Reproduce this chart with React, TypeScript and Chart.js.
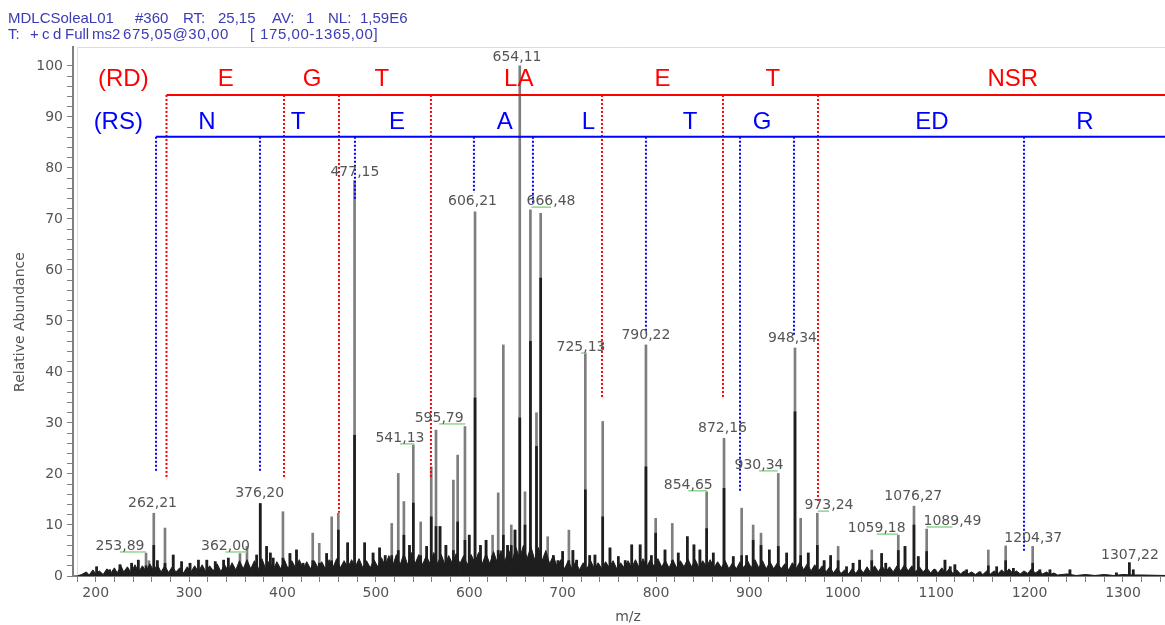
import React, { useEffect, useRef } from 'react';
import { Chart, registerables } from 'chart.js';
Chart.register(...registerables);

// ---- spectrum sticks (m/z, full height, dark inner height) ----
const peakMz = [201, 215, 226, 238.5, 245.6, 253.9, 257, 262.2, 266, 274.2, 283, 292, 301, 310, 319, 328, 337, 342, 354.5, 362, 372.4, 376.2, 383, 387, 390, 400.5, 408, 415, 422, 432.4, 439.4, 447.3, 452.7, 459.8, 469.8, 477.2, 488, 497, 504, 510, 517, 524, 530, 536, 540.1, 548, 554.4, 559.3, 564.4, 568.7, 575, 583, 587.6, 595.4, 600, 606.2, 612, 618, 625, 631, 636.5, 641, 645, 649, 654.1, 659.7, 665.5, 672, 676.5, 684, 690, 695, 700, 706.7, 711, 715, 724.3, 729, 734.6, 742.9, 750.7, 759.6, 767, 774, 783, 789.2, 795, 799.6, 809.6, 817.4, 823.8, 833.5, 840.6, 847, 854.2, 861.3, 872.8, 882.7, 891.7, 897, 904, 912.4, 921.3, 930.9, 939.9, 948.8, 954.9, 963, 972.7, 980, 987, 995, 1004, 1011, 1018, 1031, 1041.6, 1046, 1059.4, 1066.6, 1076.2, 1080.8, 1089.8, 1098.7, 1109.4, 1115, 1120, 1132.6, 1146.9, 1155.8, 1164.8, 1174.4, 1182.6, 1203.3, 1211, 1221.8, 1243.2, 1293, 1306.8, 1311];
const peakTop = [1.8, 1.2, 2.2, 2.5, 3.1, 4.5, 3.0, 12.3, 3.0, 9.4, 4.1, 2.8, 2.5, 3.1, 3.1, 2.8, 3.1, 3.5, 4.4, 5.8, 4.1, 14.2, 5.8, 4.5, 3.5, 12.6, 4.4, 5.1, 2.5, 8.4, 6.4, 4.4, 11.6, 12.3, 6.5, 77.5, 6.5, 4.5, 5.5, 4.0, 10.3, 20.1, 14.6, 6.0, 25.7, 10.6, 5.8, 21.4, 28.6, 9.7, 6.0, 18.8, 23.7, 29.3, 8.0, 71.4, 6.0, 7.0, 8.0, 16.3, 45.3, 6.0, 10.0, 9.0, 100, 16.5, 71.8, 32.0, 71.1, 7.7, 4.0, 3.0, 4.8, 9.0, 5.0, 3.1, 43.7, 4.0, 4.1, 30.3, 5.5, 3.8, 3.0, 6.1, 6.1, 45.3, 4.0, 11.3, 5.1, 10.3, 4.5, 7.7, 6.1, 5.1, 16.5, 4.5, 27.0, 3.8, 13.3, 4.0, 10.0, 8.4, 5.1, 20.1, 4.5, 44.7, 11.3, 4.5, 12.3, 3.0, 4.0, 5.8, 1.8, 2.5, 3.1, 5.1, 4.4, 2.5, 8.0, 5.8, 13.7, 3.8, 9.2, 1.2, 3.1, 1.8, 2.2, 1.2, 0.8, 5.1, 1.8, 5.9, 1.5, 5.8, 1.2, 1.2, 1.2, 0.6, 2.6, 1.2];
const peakDark = [1.8, 1.2, 2.2, 2.5, 3.1, 2.0, 1.5, 6.0, 3.0, 2.5, 4.1, 2.8, 2.5, 3.1, 3.1, 2.8, 3.1, 3.5, 2.0, 2.5, 4.1, 14.2, 5.8, 4.5, 3.5, 3.5, 4.4, 5.1, 2.5, 3.0, 2.5, 4.4, 3.0, 9.0, 6.5, 27.6, 6.5, 4.5, 5.5, 4.0, 4.0, 5.0, 8.0, 6.0, 14.3, 4.0, 5.8, 11.6, 9.7, 9.7, 6.0, 5.0, 10.6, 7.0, 8.0, 34.9, 6.0, 7.0, 4.0, 5.0, 8.0, 6.0, 6.0, 9.0, 31.0, 10.0, 46.0, 25.4, 58.4, 3.0, 4.0, 3.0, 4.8, 3.0, 5.0, 3.1, 16.9, 4.0, 4.1, 11.6, 5.5, 3.8, 3.0, 6.1, 6.1, 21.4, 4.0, 8.4, 5.1, 3.0, 4.5, 7.7, 6.1, 5.1, 9.3, 4.5, 17.2, 3.8, 4.0, 4.0, 7.0, 6.0, 5.1, 5.8, 4.5, 32.2, 4.0, 4.5, 6.0, 3.0, 4.0, 3.0, 1.8, 2.5, 3.1, 3.0, 4.4, 2.5, 5.0, 5.8, 10.0, 3.8, 4.8, 1.2, 3.1, 1.8, 2.2, 1.2, 0.8, 2.0, 1.8, 3.0, 1.5, 2.5, 1.2, 1.2, 1.2, 0.6, 2.6, 1.2];

// ---- baseline noise floor ----
const noiseMz = [180, 185, 190, 193, 197, 200, 204, 208, 212, 216, 220, 223, 227, 230, 234, 238, 242, 246, 250, 254, 258, 262, 266, 270, 274, 278, 282, 286, 290, 294, 298, 302, 306, 310, 314, 318, 322, 326, 330, 334, 338, 342, 346, 350, 354, 358, 362, 366, 370, 374, 378, 382, 386, 390, 394, 398, 402, 406, 410, 414, 418, 422, 426, 430, 434, 438, 442, 446, 450, 454, 458, 462, 466, 470, 474, 478, 482, 486, 490, 494, 498, 502, 506, 510, 514, 518, 522, 526, 530, 534, 538, 542, 546, 550, 554, 558, 562, 566, 570, 574, 578, 582, 586, 590, 594, 598, 602, 606, 610, 614, 618, 622, 626, 630, 634, 638, 642, 646, 650, 654, 658, 662, 666, 670, 674, 678, 682, 686, 690, 694, 698, 702, 706, 710, 714, 718, 722, 726, 730, 734, 738, 742, 746, 750, 754, 758, 762, 766, 770, 774, 778, 782, 786, 790, 794, 798, 802, 806, 810, 814, 818, 822, 826, 830, 834, 838, 842, 846, 850, 854, 858, 862, 866, 870, 874, 878, 882, 886, 890, 894, 898, 902, 906, 910, 914, 918, 922, 926, 930, 934, 938, 942, 946, 950, 954, 958, 962, 966, 970, 974, 978, 982, 986, 990, 994, 998, 1002, 1006, 1010, 1014, 1018, 1022, 1026, 1030, 1034, 1038, 1042, 1046, 1050, 1054, 1058, 1062, 1066, 1070, 1074, 1078, 1082, 1086, 1090, 1094, 1098, 1102, 1106, 1110, 1114, 1118, 1122, 1126, 1130, 1134, 1138, 1142, 1146, 1150, 1154, 1158, 1162, 1166, 1170, 1174, 1178, 1182, 1186, 1190, 1194, 1198, 1202, 1206, 1210, 1214, 1218, 1222, 1226, 1230, 1240, 1250, 1260, 1270, 1280, 1290, 1300, 1310, 1320, 1345];
const noiseLevel = [0, 0.3, 0.8, 0.2, 1.2, 0.4, 1.0, 0.3, 1.4, 0.5, 1.6, 0.6, 2.0, 0.8, 1.8, 0.6, 2.2, 0.8, 2.0, 0.9, 2.4, 1.0, 2.2, 0.8, 2.0, 0.7, 1.8, 0.8, 1.6, 0.6, 1.8, 0.8, 2.0, 0.8, 2.2, 0.8, 2.0, 1.0, 2.4, 0.9, 2.2, 1.0, 2.6, 1.2, 3.0, 1.4, 3.2, 1.4, 3.0, 1.2, 3.4, 1.4, 3.0, 1.2, 2.8, 1.4, 3.2, 1.4, 3.0, 1.6, 3.2, 1.4, 2.8, 1.4, 3.0, 1.6, 2.8, 1.4, 3.2, 1.6, 3.4, 1.6, 3.0, 1.6, 3.2, 1.8, 3.4, 1.6, 3.0, 1.6, 3.2, 1.8, 3.6, 2.0, 4.0, 2.0, 4.2, 2.2, 4.4, 2.2, 4.6, 2.4, 4.2, 2.2, 4.0, 2.4, 4.6, 2.4, 4.2, 2.2, 4.0, 2.4, 4.4, 2.4, 4.0, 2.2, 4.2, 2.6, 4.6, 2.4, 4.4, 2.4, 4.8, 2.6, 5.0, 2.8, 5.2, 3.0, 5.6, 3.4, 6.0, 3.4, 5.8, 3.2, 5.6, 3.0, 5.0, 2.4, 4.0, 1.8, 3.2, 1.4, 3.0, 1.4, 2.8, 1.2, 2.6, 1.4, 3.0, 1.4, 2.6, 1.4, 2.8, 1.6, 3.0, 1.4, 2.6, 1.6, 3.0, 1.6, 3.2, 1.6, 3.4, 1.8, 3.2, 1.8, 3.4, 1.8, 3.0, 1.6, 3.2, 1.6, 3.0, 1.8, 3.4, 1.8, 3.2, 1.6, 3.0, 1.8, 3.2, 1.6, 2.8, 1.6, 3.0, 1.4, 2.6, 1.4, 2.8, 1.6, 3.0, 1.6, 3.2, 1.6, 3.0, 1.4, 2.8, 1.4, 2.6, 1.4, 2.4, 1.2, 2.6, 1.4, 2.8, 1.2, 2.4, 1.0, 2.2, 1.0, 2.0, 0.8, 1.8, 0.6, 1.6, 0.5, 1.2, 0.4, 1.4, 0.5, 1.6, 0.6, 1.8, 0.6, 2.0, 0.8, 2.0, 0.8, 1.8, 0.8, 2.0, 1.0, 2.2, 1.0, 2.0, 0.8, 1.8, 0.8, 1.6, 0.6, 1.4, 0.6, 1.6, 0.6, 1.4, 0.5, 1.2, 0.4, 1.0, 0.4, 0.8, 0.3, 0.8, 0.3, 1.0, 0.4, 1.0, 0.4, 1.2, 0.5, 1.4, 0.5, 1.0, 0.4, 1.0, 0.5, 1.4, 0.6, 1.0, 0.4, 0.8, 0.3, 0.6, 0.2, 0.4, 0.1, 0.3, 0.1, 0.3, 0.1, 0.3, 0.2, 0.2, 0.1];

// ---- peak labels ----
const labelText = ['654,11', '477,15', '606,21', '666,48', '725,13', '790,22', '948,34', '595,79', '541,13', '872,16', '854,65', '930,34', '973,24', '1076,27', '1059,18', '1089,49', '1204,37', '1307,22', '262,21', '376,20', '253,89', '362,00'];
const labelMz = [651.1, 477.6, 603.5, 687.5, 719.7, 789.2, 946.1, 567.8, 525.8, 871.2, 834.5, 910.3, 985.2, 1075.5, 1036.3, 1117.4, 1204, 1307.5, 260.8, 375.6, 226, 339];
const labelY = [101.0, 78.4, 72.7, 72.7, 44.1, 46.5, 45.9, 30.2, 26.3, 28.2, 17.1, 21.0, 13.1, 14.9, 8.6, 10.0, 6.7, 3.3, 13.5, 15.5, 5.1, 5.1];
const labelPeakMz = [654.11, 477.15, 606.21, 666.48, 725.13, 790.22, 948.34, 595.79, 541.13, 872.16, 854.65, 930.34, 973.24, 1076.27, 1059.18, 1089.49, 1204.37, 1307.22, 262.21, 376.20, 253.89, 362.00];

// ---- sequence ladders ----
const rdLineY = 94.3;
const rsLineY = 86.1;
const rdBreakMz = [275.8, 401.6, 460.5, 559.0, 742.1, 871.7, 973.4];
const rdBreakBottom = [19.0, 19.0, 12.4, 19.0, 34.9, 35.1, 14.3];
const rsBreakMz = [264.6, 375.9, 477.6, 605.0, 668.2, 789.2, 889.9, 947.7, 1194.0];
const rsBreakBottom = [20.6, 20.6, 73.7, 75.1, 73.1, 47.6, 16.7, 47.3, 4.9];
const rdLetters = ['(RD)', 'E', 'G', 'T', 'LA', 'E', 'T', 'NSR'];
const rdLetterMz = [229.6, 339.4, 431.6, 506.5, 653, 806.9, 925, 1182];
const rdLetterY = 96.1;
const rsLetters = ['(RS)', 'N', 'T', 'E', 'A', 'L', 'T', 'G', 'ED', 'R'];
const rsLetterMz = [224.2, 319.2, 416.7, 522.6, 638, 727.5, 836.4, 913.5, 1095.5, 1259.3];
const rsLetterY = 87.6;

const X_MIN = 175.7;
const X_MAX = 1345;
const Y_MAX = 103.7;

const header1: [string, number][] = [['MDLCSoleaL01', 8], ['#360', 135], ['RT:', 183], ['25,15', 218], ['AV:', 272], ['1', 306], ['NL:', 328], ['1,59E6', 360]];
const header2: [string, number][] = [['T:', 8], ['+', 30], ['c', 42], ['d', 53], ['Full', 65], ['ms2', 92], ['675,05@30,00', 123], ['[', 250], ['175,00-1365,00]', 260]];

const GRAY = '#7e7e7e';
const DARK = '#1e1e1e';
const AXIS = '#808080';
const TEXT = '#555555';

const annotPlugin = {
  id: 'annot',
  beforeDatasetsDraw(chart: any) {
    const { ctx, chartArea } = chart;
    ctx.save();
    ctx.strokeStyle = '#dcdcdc';
    ctx.lineWidth = 1;
    ctx.beginPath();
    ctx.moveTo(chartArea.left + 5, chartArea.top + 0.5);
    ctx.lineTo(chartArea.right, chartArea.top + 0.5);
    ctx.moveTo(chartArea.left + 4.5, chartArea.top);
    ctx.lineTo(chartArea.left + 4.5, chartArea.bottom);
    ctx.stroke();
    ctx.restore();
  },
  afterDatasetsDraw(chart: any) {
    const { ctx } = chart;
    const x = chart.scales.x;
    const y = chart.scales.y;
    ctx.save();
    // peak labels + leader lines
    ctx.font = '14px "DejaVu Sans", sans-serif';
    ctx.textAlign = 'center';
    ctx.textBaseline = 'alphabetic';
    labelText.forEach((t, i) => {
      const lx = x.getPixelForValue(labelMz[i]);
      const ly = y.getPixelForValue(labelY[i]);
      const px = x.getPixelForValue(labelPeakMz[i]);
      if (Math.abs(px - lx) > 4) {
        ctx.strokeStyle = '#8fd68f';
        ctx.lineWidth = 1.5;
        ctx.beginPath();
        ctx.moveTo(lx, ly + 2);
        ctx.lineTo(px, ly + 2);
        ctx.stroke();
      }
      ctx.fillStyle = TEXT;
      ctx.fillText(t, lx, ly);
    });
    // sequence letters
    ctx.font = '24px "Liberation Sans", Arial, sans-serif';
    ctx.fillStyle = '#ff0000';
    rdLetters.forEach((t, i) => ctx.fillText(t, x.getPixelForValue(rdLetterMz[i]), y.getPixelForValue(rdLetterY)));
    ctx.fillStyle = '#0000ff';
    rsLetters.forEach((t, i) => ctx.fillText(t, x.getPixelForValue(rsLetterMz[i]), y.getPixelForValue(rsLetterY)));
    ctx.restore();
  },
  afterDraw(chart: any) {
    const { ctx } = chart;
    ctx.save();
    ctx.fillStyle = '#3b3bb3';
    ctx.font = '15px "Liberation Sans", Arial, sans-serif';
    ctx.textAlign = 'left';
    ctx.textBaseline = 'alphabetic';
    header1.forEach(([t, px]) => ctx.fillText(t, px, 23));
    header2.forEach(([t, px]) => {
      ctx.letterSpacing = t.length > 10 ? '0.6px' : '0px';
      ctx.fillText(t, px, 39);
    });
    ctx.letterSpacing = '0px';
    // axis titles
    ctx.fillStyle = TEXT;
    ctx.font = '14px "DejaVu Sans", sans-serif';
    ctx.textAlign = 'center';
    ctx.textBaseline = 'middle';
    ctx.fillText('m/z', 628, 617);
    ctx.translate(20, 322);
    ctx.rotate(-Math.PI / 2);
    ctx.fillText('Relative Abundance', 0, 0);
    ctx.restore();
  },
};

export default function App() {
  const ref = useRef<HTMLCanvasElement>(null);
  useEffect(() => {
    const xTicks: number[] = [];
    for (let v = 180; v <= 1340; v += 20) xTicks.push(v);
    const yTicks: number[] = [];
    for (let v = 0; v <= 100; v += 2) yTicks.push(v);

    const vLine = (m: number, top: number, bottom: number, color: string) => ({
      type: 'line',
      data: [{ x: m, y: top }, { x: m, y: bottom }],
      borderColor: color,
      borderWidth: 2,
      borderDash: [2, 2],
      pointRadius: 0,
      fill: false,
      tension: 0,
      order: 0,
    });

    const datasets: any[] = [
      {
        type: 'line',
        data: [{ x: rdBreakMz[0], y: rdLineY }, { x: X_MAX, y: rdLineY }],
        borderColor: '#ff0000', borderWidth: 2, pointRadius: 0, fill: false, order: 0,
      },
      {
        type: 'line',
        data: [{ x: rsBreakMz[0], y: rsLineY }, { x: X_MAX, y: rsLineY }],
        borderColor: '#0000ff', borderWidth: 2, pointRadius: 0, fill: false, order: 0,
      },
      ...rdBreakMz.map((m, i) => vLine(m, rdLineY, rdBreakBottom[i], '#ff0000')),
      ...rsBreakMz.map((m, i) => vLine(m, rsLineY, rsBreakBottom[i], '#0000ff')),
      {
        type: 'bar',
        data: peakMz.map((m, i) => ({ x: m, y: peakDark[i] })),
        backgroundColor: DARK, barThickness: 2, grouped: false, order: 1,
      },
      {
        type: 'line',
        data: noiseMz.map((m, i) => ({ x: m, y: noiseLevel[i] })),
        borderColor: DARK, backgroundColor: DARK, borderWidth: 1, pointRadius: 0,
        fill: 'origin', tension: 0, order: 2,
      },
      {
        type: 'bar',
        data: peakMz.map((m, i) => ({ x: m, y: peakTop[i] })),
        backgroundColor: GRAY, barThickness: 2, grouped: false, order: 3,
      },
    ];

    const gridOpts = {
      display: true, drawOnChartArea: false, drawTicks: true, tickLength: 6, color: AXIS, offset: false,
    };
    const chart = new Chart(ref.current as HTMLCanvasElement, {
      type: 'bar',
      data: { datasets },
      plugins: [annotPlugin],
      options: {
        responsive: false,
        animation: false,
        devicePixelRatio: 1,
        layout: { padding: { top: 47, left: 0, right: 0, bottom: 0 } },
        plugins: { legend: { display: false }, tooltip: { enabled: false } },
        scales: {
          x: {
            type: 'linear', min: X_MIN, max: X_MAX, offset: false,
            grid: gridOpts,
            border: { display: true, color: AXIS, width: 2 },
            ticks: {
              autoSkip: false, maxRotation: 0, minRotation: 0, padding: 3, color: TEXT,
              font: { family: 'DejaVu Sans', size: 14 },
              callback: (v: any) => (Number(v) % 100 === 0 ? String(v) : ''),
            },
            afterBuildTicks: (s: any) => { s.ticks = xTicks.map((v) => ({ value: v })); },
            afterFit: (s: any) => { s.height = 49; s.paddingLeft = 0; s.paddingRight = 0; },
          },
          y: {
            type: 'linear', min: 0, max: Y_MAX,
            grid: gridOpts,
            border: { display: true, color: AXIS, width: 2 },
            ticks: {
              autoSkip: false, padding: 4, color: TEXT,
              font: { family: 'DejaVu Sans', size: 14 },
              callback: (v: any) => (Number(v) % 10 === 0 ? String(v) : ''),
            },
            afterBuildTicks: (s: any) => { s.ticks = yTicks.map((v) => ({ value: v })); },
            afterFit: (s: any) => { s.width = 73; s.paddingTop = 0; s.paddingBottom = 0; },
          },
        },
      } as any,
    } as any);
    return () => chart.destroy();
  }, []);
  return (
    <div style={{ position: 'absolute', left: 0, top: 0, width: 1165, height: 625, background: '#fff' }}>
      <canvas ref={ref} width={1165} height={625} style={{ display: 'block', width: 1165, height: 625 }} />
    </div>
  );
}
